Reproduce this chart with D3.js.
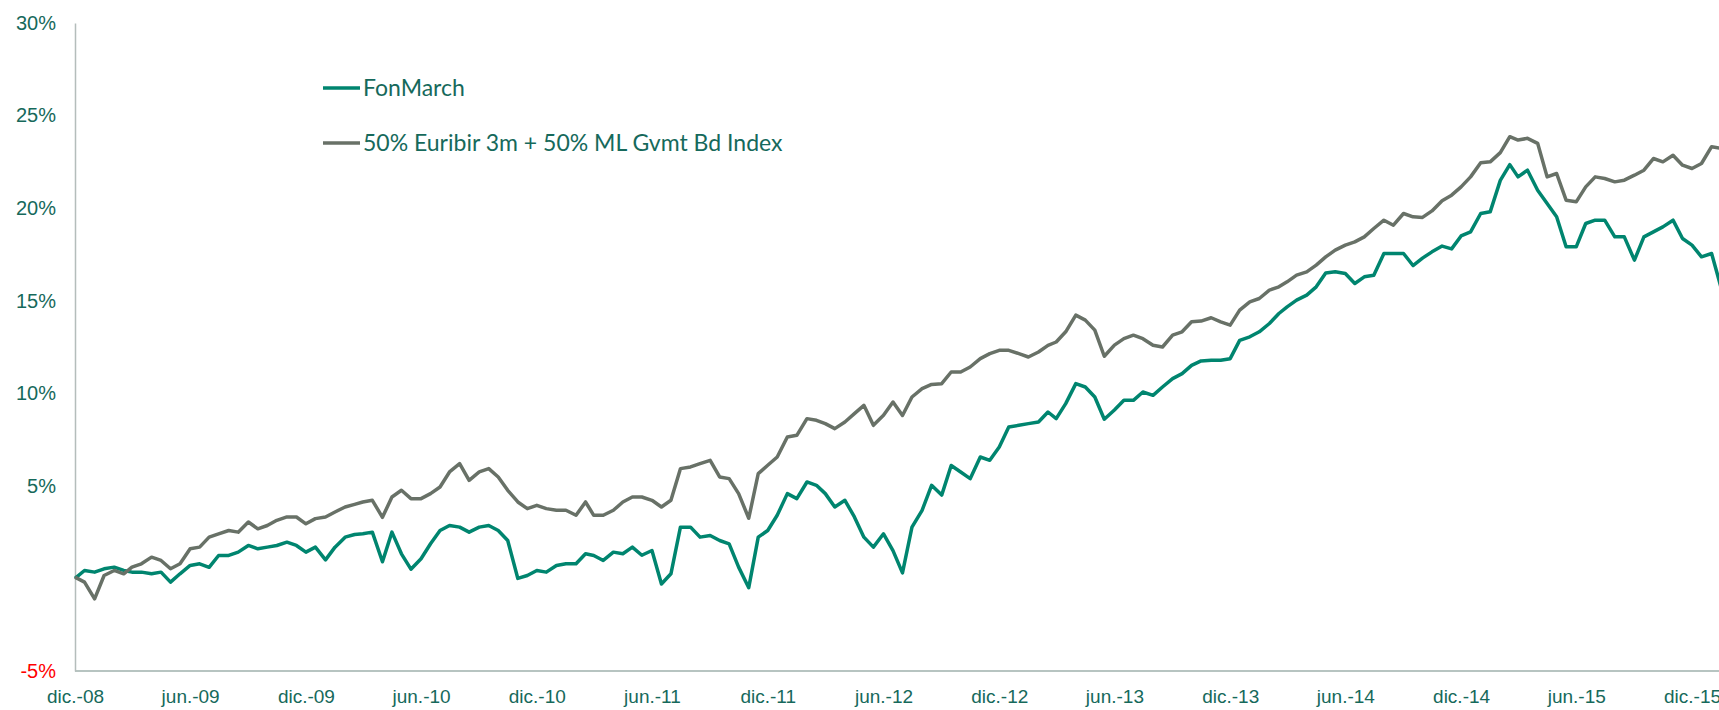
<!DOCTYPE html>
<html>
<head>
<meta charset="utf-8">
<script src="https://cdn.jsdelivr.net/npm/d3@7"></script>
<style>
    body { margin: 0; background: #fff; }
    svg { display: block; font-family: Lato, "Open Sans", sans-serif; }
    .tick text { fill: #16695b; font-size: 20px; }
    .xaxis .tick text { font-size: 19px; }
    .legend text { fill: #16695b; font-size: 23px; }
</style>
</head>
<body>
<svg width="1719" height="710"></svg>
<script>
// semi-monthly readings (1st and 16th of each month), starting 1 Dec 2008, in %
var fonMarch = [
    0.0, 0.43, 0.34, 0.52, 0.61, 0.43, 0.34, 0.34, 0.25, 0.34,
    -0.2, 0.25, 0.7, 0.79, 0.6, 1.24, 1.24, 1.42, 1.78, 1.6,
    1.69, 1.78, 1.96, 1.78, 1.42, 1.69, 1.0, 1.69, 2.23, 2.37,
    2.41, 2.5, 0.9, 2.5, 1.33, 0.5, 1.06, 1.87, 2.59, 2.86,
    2.77, 2.5, 2.77, 2.86, 2.59, 2.05, 0.0, 0.16, 0.43, 0.34,
    0.7, 0.79, 0.79, 1.33, 1.24, 0.97, 1.42, 1.33, 1.69, 1.25,
    1.51, -0.3, 0.25, 2.77, 2.77, 2.23, 2.32, 2.05, 1.87, 0.61,
    -0.5, 2.23, 2.59, 3.41, 4.58, 4.31, 5.21, 5.03, 4.58, 3.86,
    4.22, 3.32, 2.23, 1.69, 2.41, 1.5, 0.3, 2.77, 3.68, 5.03,
    4.5, 6.1, 5.75, 5.39, 6.56, 6.38, 7.1, 8.18, 8.27, 8.36,
    8.45, 8.99, 8.63, 9.44, 10.52, 10.34, 9.8, 8.6, 9.1, 9.62,
    9.62, 10.07, 9.89, 10.34, 10.79, 11.06, 11.51, 11.75, 11.78, 11.78,
    11.87, 12.86, 13.05, 13.32, 13.77, 14.31, 14.67, 15.03, 15.3, 15.75,
    16.5, 16.56, 16.47, 15.93, 16.29, 16.38, 17.55, 17.55, 17.55, 16.9,
    17.3, 17.64, 17.95, 17.8, 18.5, 18.72, 19.71, 19.8, 21.5, 22.35,
    21.69, 22.05, 20.97, 20.25, 19.53, 17.91, 17.91, 19.17, 19.35, 19.35,
    18.45, 18.45, 17.19, 18.45, 18.72, 18.99, 19.35, 18.36, 18.0, 17.37,
    17.55, 15.7
];

var benchmark = [
    0.07, -0.2, -1.1, 0.16, 0.43, 0.25, 0.61, 0.79, 1.15, 0.97,
    0.52, 0.79, 1.6, 1.69, 2.23, 2.41, 2.59, 2.5, 3.05, 2.68,
    2.86, 3.14, 3.32, 3.32, 2.95, 3.23, 3.32, 3.59, 3.86, 4.0,
    4.13, 4.22, 3.3, 4.4, 4.76, 4.31, 4.31, 4.58, 4.94, 5.75,
    6.2, 5.3, 5.75, 5.93, 5.48, 4.76, 4.13, 3.77, 3.95, 3.77,
    3.68, 3.68, 3.41, 4.13, 3.41, 3.41, 3.68, 4.13, 4.4, 4.4,
    4.22, 3.86, 4.22, 5.93, 6.02, 6.2, 6.38, 5.48, 5.39, 4.58,
    3.25, 5.66, 6.11, 6.56, 7.64, 7.73, 8.63, 8.54, 8.36, 8.09,
    8.45, 8.9, 9.35, 8.27, 8.81, 9.53, 8.8, 9.8, 10.25, 10.48,
    10.52, 11.15, 11.15, 11.42, 11.87, 12.14, 12.32, 12.32, 12.14, 11.96,
    12.23, 12.59, 12.77, 13.32, 14.22, 13.95, 13.41, 12.0, 12.6, 12.95,
    13.14, 12.95, 12.59, 12.5, 13.14, 13.32, 13.86, 13.9, 14.08, 13.86,
    13.68, 14.49, 14.94, 15.12, 15.57, 15.75, 16.02, 16.38, 16.56, 16.92,
    17.37, 17.73, 18.0, 18.18, 18.45, 18.9, 19.35, 19.08, 19.71, 19.53,
    19.5, 19.85, 20.4, 20.7, 21.15, 21.69, 22.45, 22.5, 23.0, 23.86,
    23.68, 23.77, 23.5, 21.69, 21.87, 20.43, 20.34, 21.15, 21.69, 21.6,
    21.42, 21.51, 21.78, 22.05, 22.68, 22.5, 22.86, 22.32, 22.14, 22.41,
    23.32, 23.23
];

var seriesNames = ["FonMarch", "50% Euribir 3m + 50% ML Gvmt Bd Index"];
var yTicks = [-5, 5, 10, 15, 20, 25, 30];

var dates = fonMarch.map(function (d, i) {
    return new Date(2008, 11 + Math.floor(i / 2), i % 2 ? 16 : 1);
});

var svg = d3.select("svg");

var x = d3.scaleTime()
    .domain([new Date(2008, 11, 1), new Date(2015, 11, 1)])
    .range([75, 1692]);

var y = d3.scaleLinear()
    .domain([-5, 30])
    .range([671, 23]);

var es = d3.timeFormatLocale({
    dateTime: "%x, %X", date: "%d/%m/%Y", time: "%-H:%M:%S",
    periods: ["AM", "PM"],
    days: ["domingo", "lunes", "martes", "miércoles", "jueves", "viernes", "sábado"],
    shortDays: ["dom", "lun", "mar", "mié", "jue", "vie", "sáb"],
    months: ["enero", "febrero", "marzo", "abril", "mayo", "junio", "julio", "agosto", "septiembre", "octubre", "noviembre", "diciembre"],
    shortMonths: ["ene.", "feb.", "mar.", "abr.", "may.", "jun.", "jul.", "ago.", "sept.", "oct.", "nov.", "dic."]
});

var xTicks = d3.timeMonth.range(new Date(2008, 11, 1), new Date(2016, 0, 1), 6);

// x axis
var gx = svg.append("g")
    .attr("class", "xaxis")
    .attr("transform", "translate(0,671)")
    .call(d3.axisBottom(x)
        .tickValues(xTicks)
        .tickFormat(es.format("%b-%y"))
        .tickSize(0)
        .tickPadding(19));
gx.select(".domain").attr("d", "M75,0H1719").attr("stroke", "#9fb0ad").attr("stroke-width", 1.5);
gx.selectAll("text").attr("font-family", null).attr("font-size", null);

// y axis
var gy = svg.append("g")
    .attr("transform", "translate(75,0)")
    .call(d3.axisLeft(y)
        .tickValues(yTicks)
        .tickFormat(function (d) { return d + "%"; })
        .tickSize(0)
        .tickPadding(19));
gy.select(".domain").attr("stroke", "#b4bdbb").attr("stroke-width", 1.5);
gy.selectAll("text")
    .attr("font-family", null).attr("font-size", null)
    .style("fill", function (d) { return d < 0 ? "#ff0000" : null; });

// lines
var line = d3.line()
    .x(function (d) { return x(d[0]); })
    .y(function (d) { return y(d[1]); });

var colors = ["#00856f", "#687167"];
[fonMarch, benchmark].forEach(function (s, k) {
    svg.append("path")
        .datum(s.map(function (v, i) { return [dates[i], v]; }))
        .attr("fill", "none")
        .attr("stroke", colors[k])
        .attr("stroke-width", 3.5)
        .attr("stroke-linejoin", "round")
        .attr("d", line);
});

// legend
var legend = svg.append("g").attr("class", "legend");
seriesNames.forEach(function (name, k) {
    var ly = 88 + k * 55;
    legend.append("line")
        .attr("x1", 323).attr("x2", 360)
        .attr("y1", ly).attr("y2", ly)
        .attr("stroke", colors[k])
        .attr("stroke-width", 3.5);
    legend.append("text")
        .attr("x", 363).attr("y", ly)
        .attr("dy", "0.35em")
        .text(name);
});
</script>
</body>
</html>
